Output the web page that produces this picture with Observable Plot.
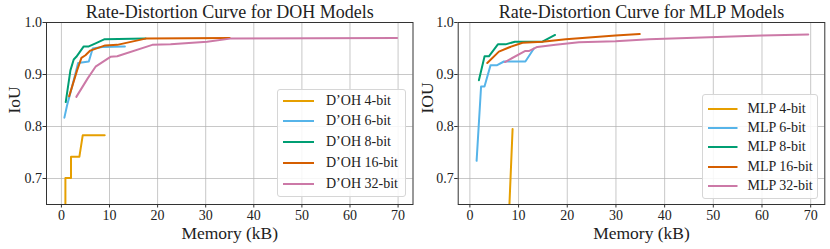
<!DOCTYPE html>
<html>
<head>
<meta charset="utf-8">
<script src="https://cdn.jsdelivr.net/npm/d3@7"></script>
<script src="https://cdn.jsdelivr.net/npm/@observablehq/plot@0.6"></script>
<style>
  html, body { margin: 0; padding: 0; background: #fff; }
  #wrap { display: flex; width: 830px; height: 249px; font-family: "Liberation Serif", serif; }
  .panel { position: relative; width: 415px; height: 249px; }
  .legend { position: absolute; background: rgba(255,255,255,0.85); border: 1px solid #d6d6d6; border-radius: 3px; box-sizing: border-box; }
  .legend .row { position: absolute; left: 0; height: 16px; display: flex; align-items: center; font-size: 14px; color: #222; white-space: nowrap; }
  .legend svg { display: block; }
</style>
</head>
<body>
<div id="wrap"></div>
<script>
// ---------- data ----------
const bitLabels = ["4-bit", "6-bit", "8-bit", "16-bit", "32-bit"];
const seriesColors = ["#E69F00", "#56B4E9", "#009E73", "#D55E00", "#CC79A7"];
const xTicks = [0, 10, 20, 30, 40, 50, 60, 70];
const yTicks = [0.7, 0.8, 0.9, 1.0];

// D'OH models (memory kB, IoU)
const doh4Mem = [0.83, 0.83, 2.0, 2.0, 3.74, 4.43, 9.0];
const doh4Iou = [0.60, 0.701, 0.701, 0.742, 0.742, 0.783, 0.783];
const doh6Mem = [0.62, 1.18, 2.2, 3.47, 5.7, 6.5, 8.5, 13.2];
const doh6Iou = [0.817, 0.841, 0.876, 0.922, 0.925, 0.950, 0.953, 0.954];
const doh8Mem = [0.9, 1.87, 2.56, 3.1, 4.64, 5.7, 7.1, 9.0, 17.5];
const doh8Iou = [0.847, 0.908, 0.929, 0.934, 0.954, 0.954, 0.960, 0.968, 0.969];
const doh16Mem = [1.6, 3.26, 4.16, 5.0, 6.0, 9.1, 11.6, 17.5, 35.0];
const doh16Iou = [0.858, 0.908, 0.932, 0.937, 0.946, 0.956, 0.957, 0.969, 0.970];
const doh32Mem = [3.1, 5.5, 7.1, 10.2, 11.6, 18.9, 22.7, 30.3, 35.1, 69.8];
const doh32Iou = [0.857, 0.893, 0.915, 0.934, 0.935, 0.957, 0.958, 0.963, 0.969, 0.970];

// MLP models (memory kB, IOU)
const mlp4Mem = [7.9, 8.77];
const mlp4Iou = [0.60, 0.795];
const mlp6Mem = [1.38, 2.3, 3.0, 4.25, 5.6, 7.0, 11.4, 13.15];
const mlp6Iou = [0.734, 0.877, 0.877, 0.918, 0.918, 0.925, 0.925, 0.950];
const mlp8Mem = [1.85, 3.02, 3.9, 5.75, 7.33, 9.25, 14.9, 17.5];
const mlp8Iou = [0.889, 0.935, 0.935, 0.958, 0.958, 0.963, 0.963, 0.976];
const mlp16Mem = [3.57, 5.96, 8.0, 10.8, 14.9, 19.7, 29.9, 34.9];
const mlp16Iou = [0.922, 0.944, 0.952, 0.961, 0.963, 0.968, 0.975, 0.978];
const mlp32Mem = [7.2, 11.3, 12.1, 13.85, 17.6, 22.4, 29.9, 36.8, 60.0, 69.5];
const mlp32Iou = [0.924, 0.945, 0.945, 0.953, 0.957, 0.962, 0.964, 0.968, 0.975, 0.977];

// ---------- build ----------
function rows(prefix, mems, ious) {
  const out = [];
  mems.forEach((m, i) => m.forEach((x, j) => out.push({series: prefix + " " + bitLabels[i], mem: x, iou: ious[i][j]})));
  return out;
}
const dohRows = rows("D’OH", [doh4Mem, doh6Mem, doh8Mem, doh16Mem, doh32Mem], [doh4Iou, doh6Iou, doh8Iou, doh16Iou, doh32Iou]);
const mlpRows = rows("MLP", [mlp4Mem, mlp6Mem, mlp8Mem, mlp16Mem, mlp32Mem], [mlp4Iou, mlp6Iou, mlp8Iou, mlp16Iou, mlp32Iou]);

function panel(cfg) {
  const names = bitLabels.map(b => cfg.prefix + " " + b);
  const plot = Plot.plot({
    width: 415, height: 249,
    marginLeft: cfg.ml, marginRight: cfg.mr, marginTop: 22, marginBottom: 45,
    style: {fontFamily: "'Liberation Serif', serif", fontSize: "14px", background: "white", color: "#222", overflow: "visible"},
    x: {domain: cfg.xdom},
    y: {domain: [0.65, 1.0]},
    color: {domain: names, range: seriesColors},
    marks: [
      Plot.gridX(xTicks, {stroke: "#b0b0b0", strokeOpacity: 0.7, strokeWidth: 1}),
      Plot.gridY(yTicks, {stroke: "#b0b0b0", strokeOpacity: 0.7, strokeWidth: 1}),
      Plot.line(cfg.data, {x: "mem", y: "iou", z: "series", stroke: "series", strokeWidth: 2, clip: true}),
      Plot.frame({stroke: "#333", strokeWidth: 1}),
      Plot.axisX(xTicks, {tickSize: 3.5, tickPadding: 2, label: null, fontSize: 14, stroke: "#333"}),
      Plot.axisY(yTicks, {tickSize: 3.5, tickPadding: 1, label: null, fontSize: 14, tickFormat: d3.format(".1f"), stroke: "#333"}),
      Plot.text([cfg.title], {frameAnchor: "top", dy: -10, fontSize: 18, lineAnchor: "middle"}),
      Plot.text(["Memory (kB)"], {frameAnchor: "bottom", dy: 29, fontSize: 17.5, lineAnchor: "middle"}),
      Plot.text([cfg.ylabel], {frameAnchor: "left", dx: cfg.ydx, rotate: -90, fontSize: 17.5, lineAnchor: "middle"})
    ]
  });
  const div = document.createElement("div");
  div.className = "panel";
  div.appendChild(plot);
  const lg = document.createElement("div");
  lg.className = "legend";
  Object.assign(lg.style, cfg.legendBox);
  names.forEach((n, i) => {
    const r = document.createElement("div");
    r.className = "row";
    r.style.top = (cfg.rowTop + i * cfg.rowGap - 8) + "px";
    r.style.left = cfg.lineLeft + "px";
    r.innerHTML = `<svg width="${cfg.lineLen}" height="16"><line x1="0" x2="${cfg.lineLen}" y1="8" y2="8" stroke="${seriesColors[i]}" stroke-width="2"/></svg><span style="margin-left:${cfg.textGap}px">${n}</span>`;
    lg.appendChild(r);
  });
  div.appendChild(lg);
  return div;
}

const wrap = document.getElementById("wrap");
wrap.appendChild(panel({
  prefix: "D’OH", title: "Rate-Distortion Curve for DOH Models", ylabel: "IoU", data: dohRows,
  ml: 46, mr: 2.5, xdom: [-3.1, 73.1], ydx: -32,
  legendBox: {left: "277px", top: "89px", width: "129px", height: "108px"},
  rowTop: 10.5, rowGap: 20.8, lineLeft: 5, lineLen: 31, textGap: 12
}));
wrap.appendChild(panel({
  prefix: "MLP", title: "Rate-Distortion Curve for MLP Models", ylabel: "IOU", data: mlpRows,
  ml: 42.7, mr: 5.7, xdom: [-2.4, 72.9], ydx: -31,
  legendBox: {left: "287px", top: "94px", width: "116px", height: "105px"},
  rowTop: 14, rowGap: 19.2, lineLeft: 5, lineLen: 29.5, textGap: 10
}));
</script>
</body>
</html>
